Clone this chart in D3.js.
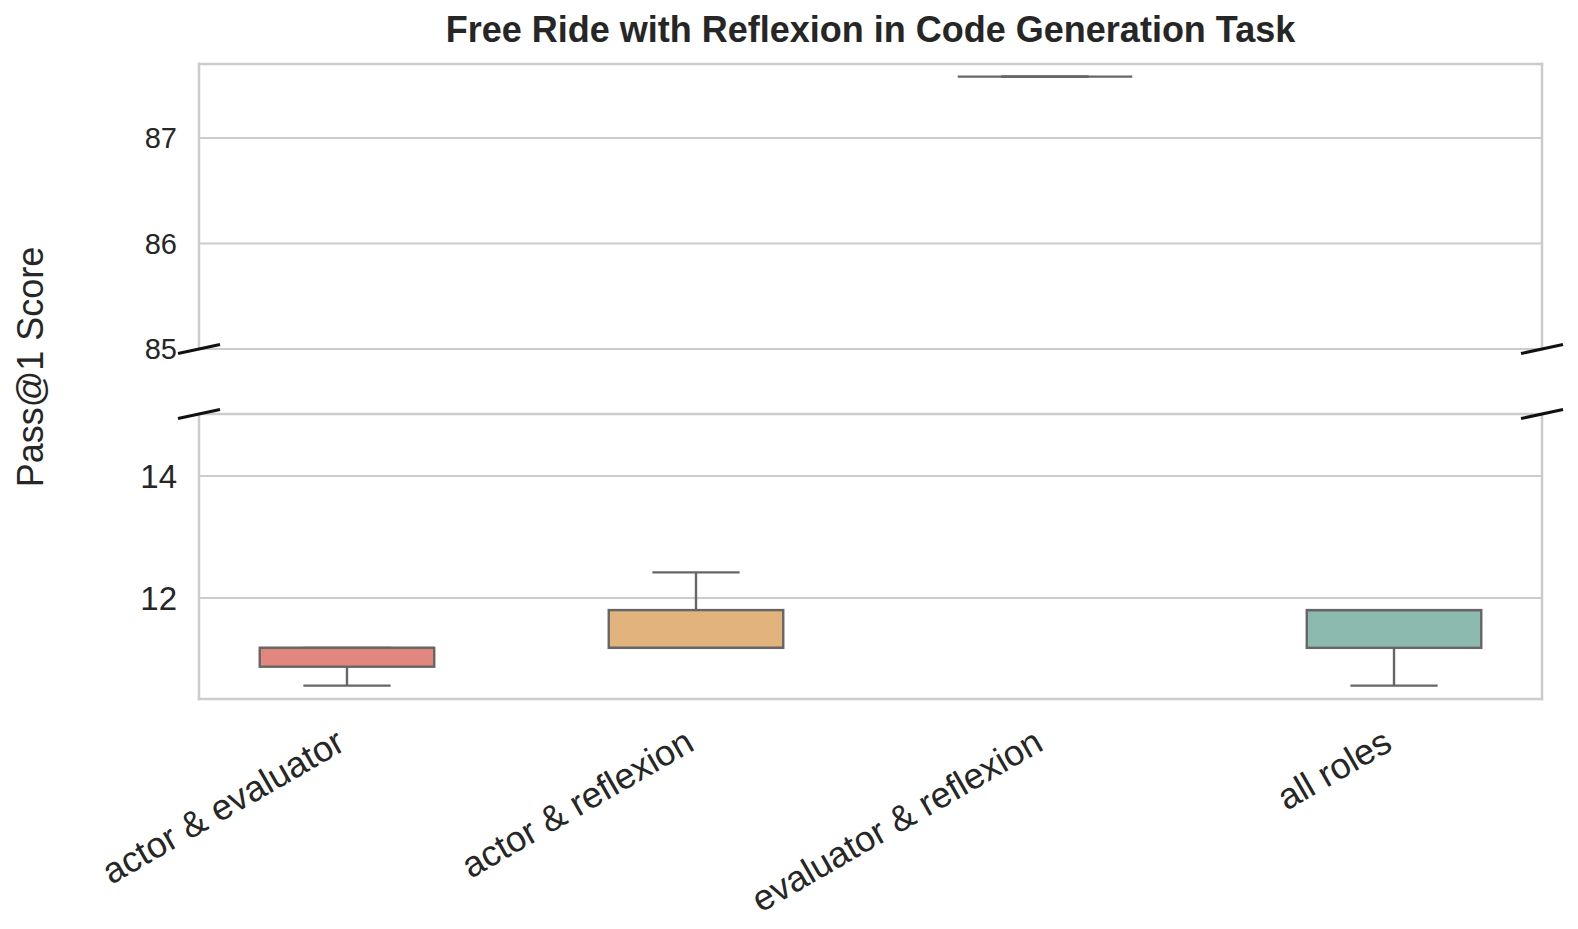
<!DOCTYPE html>
<html>
<head>
<meta charset="utf-8">
<script src="https://cdn.jsdelivr.net/npm/d3@7"></script>
<style>
  body { margin: 0; background: #fff; }
  text { font-family: "Liberation Sans", Arial, sans-serif; fill: #262626; }
</style>
</head>
<body>
<svg id="chart" width="1578" height="929"></svg>
<script>
// categories and the three runs behind each box
var categories = ["actor & evaluator", "actor & reflexion", "evaluator & reflexion", "all roles"];
var actorEvaluator = [10.56, 11.18, 11.18];
var actorReflexion = [11.18, 11.18, 12.42];
var evaluatorReflexion = [87.58, 87.58, 87.58];
var allRoles = [10.56, 11.80, 11.80];
var colors = ["#e2877f", "#e3b37e", "#c9c9c9", "#8dbaae"];
var upperTicks = [85, 86, 87];
var lowerTicks = [12, 14];

var runs = [actorEvaluator, actorReflexion, evaluatorReflexion, allRoles];

var svg = d3.select("#chart");
var left = 199, right = 1542;

var x = d3.scaleLinear().domain([-0.424, 3.424]).range([left, right]);

var panels = [
    { id: "up", y: d3.scaleLinear().domain([85, 87.70]).range([349, 64]), ticks: upperTicks, fs: 29 },
    { id: "lo", y: d3.scaleLinear().domain([10.34, 15.02]).range([699, 414]), ticks: lowerTicks, fs: 33 }
];

// box stats like seaborn/matplotlib (linear quantiles, 1.5 IQR whiskers)
var stats = runs.map(function(v, i) {
    var s = v.slice().sort(d3.ascending);
    var q1 = d3.quantile(s, 0.25), med = d3.quantile(s, 0.5), q3 = d3.quantile(s, 0.75);
    var iqr = q3 - q1;
    var lo = d3.min(s.filter(function(d) { return d >= q1 - 1.5 * iqr; }));
    var hi = d3.max(s.filter(function(d) { return d <= q3 + 1.5 * iqr; }));
    return { i: i, q1: q1, med: med, q3: q3, lo: lo, hi: hi };
});

var boxW = x(0.25) - x(0), capW = x(0.125) - x(0);

panels.forEach(function(p) {
    var y = p.y;
    var top = y.range()[1], bot = y.range()[0];

    svg.append("clipPath").attr("id", "clip-" + p.id)
        .append("rect").attr("x", left).attr("y", top - 2).attr("width", right - left).attr("height", bot - top + 4);

    var g = svg.append("g");

    g.selectAll("line.grid")
        .data(p.ticks)
        .enter().append("line")
        .attr("x1", left).attr("x2", right)
        .attr("y1", function(d) { return y(d); })
        .attr("y2", function(d) { return y(d); })
        .attr("stroke", "#cccccc")
        .attr("stroke-width", 2);

    g.selectAll("text.tick")
        .data(p.ticks)
        .enter().append("text")
        .attr("x", left - 22)
        .attr("y", function(d) { return y(d); })
        .attr("dy", "0.36em")
        .attr("text-anchor", "end")
        .style("font-size", p.fs + "px")
        .text(function(d) { return d; });

    var b = g.append("g").attr("clip-path", "url(#clip-" + p.id + ")")
        .selectAll("g")
        .data(stats)
        .enter().append("g");

    b.append("line")
        .attr("x1", function(d) { return x(d.i); }).attr("x2", function(d) { return x(d.i); })
        .attr("y1", function(d) { return y(d.q3); }).attr("y2", function(d) { return y(d.hi); })
        .attr("stroke", "#666").attr("stroke-width", 2.4);
    b.append("line")
        .attr("x1", function(d) { return x(d.i); }).attr("x2", function(d) { return x(d.i); })
        .attr("y1", function(d) { return y(d.q1); }).attr("y2", function(d) { return y(d.lo); })
        .attr("stroke", "#666").attr("stroke-width", 2.4);
    b.selectAll("line.cap")
        .data(function(d) { return [[d.i, d.lo], [d.i, d.hi]]; })
        .enter().append("line")
        .attr("x1", function(d) { return x(d[0]) - capW; })
        .attr("x2", function(d) { return x(d[0]) + capW; })
        .attr("y1", function(d) { return y(d[1]); })
        .attr("y2", function(d) { return y(d[1]); })
        .attr("stroke", "#666").attr("stroke-width", 2.4);
    b.append("rect")
        .attr("x", function(d) { return x(d.i) - boxW; })
        .attr("y", function(d) { return y(d.q3); })
        .attr("width", boxW * 2)
        .attr("height", function(d) { return y(d.q1) - y(d.q3); })
        .attr("fill", function(d) { return colors[d.i]; })
        .attr("stroke", "#666").attr("stroke-width", 2.4);
    b.append("line")
        .attr("x1", function(d) { return x(d.i) - boxW; })
        .attr("x2", function(d) { return x(d.i) + boxW; })
        .attr("y1", function(d) { return y(d.med); })
        .attr("y2", function(d) { return y(d.med); })
        .attr("stroke", "#666").attr("stroke-width", 2.4);

    // spines
    var sp = [[left, top, left, bot], [right, top, right, bot], [left, top, right, top]];
    if (p.id === "lo") sp.push([left, bot, right, bot]);
    g.selectAll("line.spine")
        .data(sp)
        .enter().append("line")
        .attr("x1", function(d) { return d[0]; }).attr("y1", function(d) { return d[1]; })
        .attr("x2", function(d) { return d[2]; }).attr("y2", function(d) { return d[3]; })
        .attr("stroke", "#cccccc")
        .attr("stroke-width", 2.5)
        .attr("stroke-linecap", "square");
});

// break marks
var breaks = [[left, 349], [right, 349], [left, 414], [right, 414]];
svg.selectAll("line.brk")
    .data(breaks)
    .enter().append("line")
    .attr("x1", function(d) { return d[0] - 21; }).attr("y1", function(d) { return d[1] + 4.5; })
    .attr("x2", function(d) { return d[0] + 21; }).attr("y2", function(d) { return d[1] - 4.5; })
    .attr("stroke", "#111")
    .attr("stroke-width", 3);

// x labels, rotated 30 degrees and right aligned on the tick
svg.selectAll("text.xl")
    .data(categories)
    .enter().append("text")
    .attr("transform", function(d, i) { return "translate(" + x(i) + ",749) rotate(-30)"; })
    .attr("text-anchor", "end")
    .style("font-size", "36px")
    .text(function(d) { return d; });

svg.append("text")
    .attr("transform", "translate(43,367) rotate(-90)")
    .attr("text-anchor", "middle")
    .style("font-size", "36px")
    .text("Pass@1 Score");

svg.append("text")
    .attr("x", (left + right) / 2)
    .attr("y", 42)
    .attr("text-anchor", "middle")
    .style("font-size", "36px")
    .style("font-weight", "bold")
    .text("Free Ride with Reflexion in Code Generation Task");
</script>
</body>
</html>
